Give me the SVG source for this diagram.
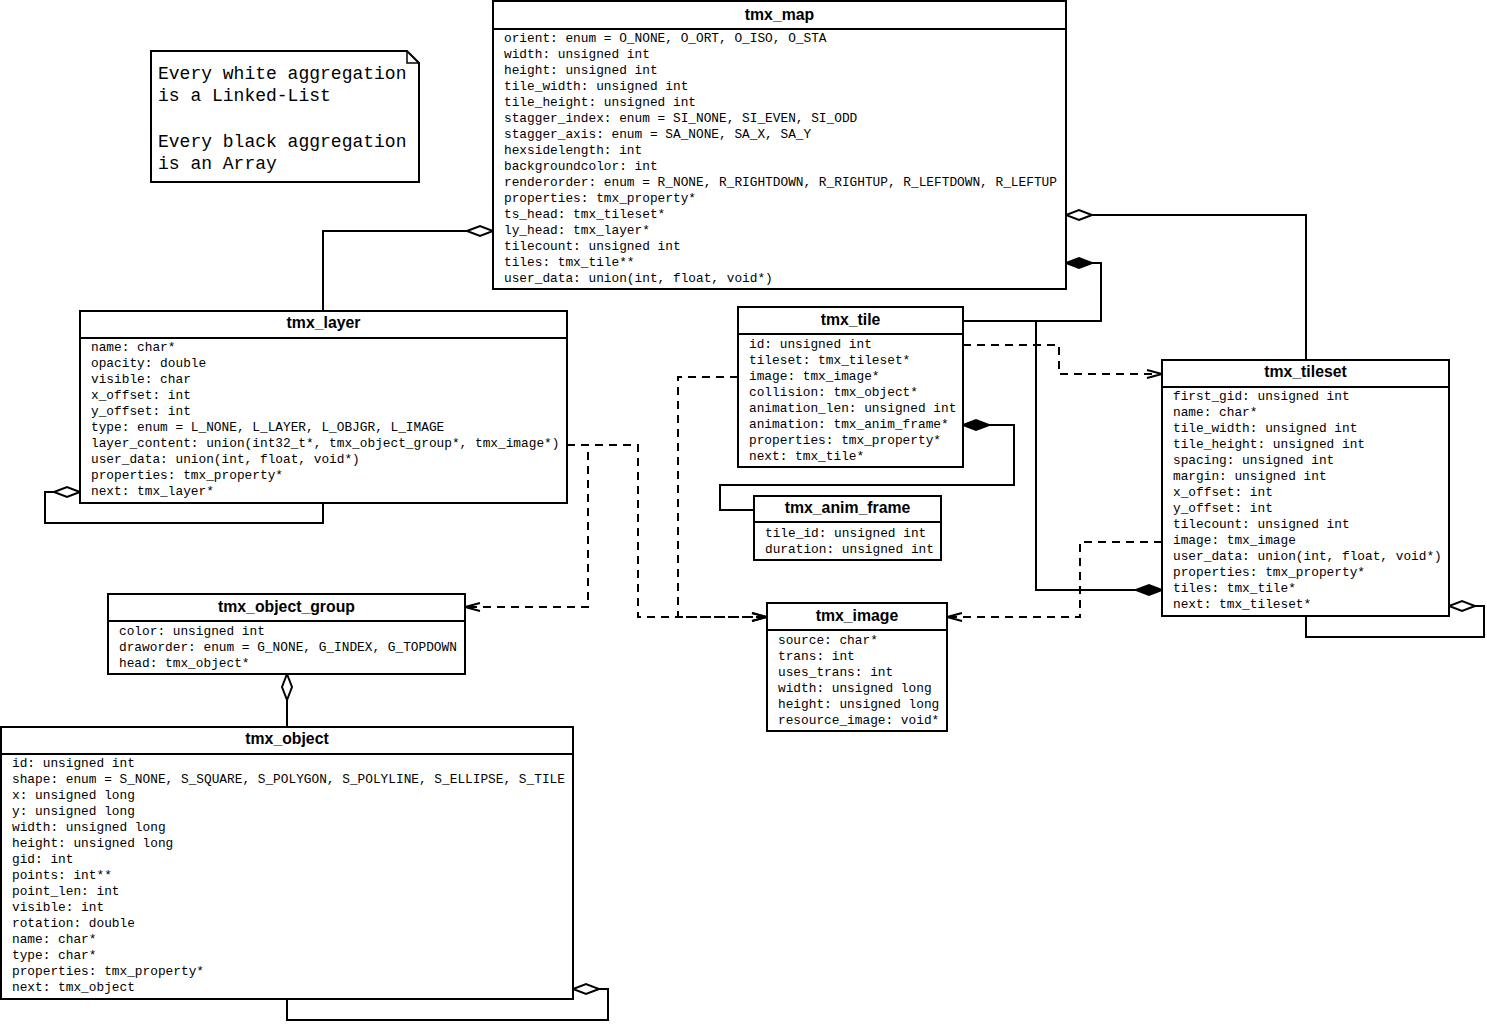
<svg xmlns="http://www.w3.org/2000/svg" width="1487" height="1032" viewBox="0 0 1487 1032">
<style>
.box{fill:#fff;stroke:#000;stroke-width:2}
.div{stroke:#000;stroke-width:2}
.title{font-family:"Liberation Sans",Arial,sans-serif;font-weight:bold;font-size:15.8px;text-anchor:middle;fill:#000}
.attr{font-family:"Liberation Mono","Courier New",monospace;font-size:12.8px;fill:#000}
.note{font-family:"Liberation Mono","Courier New",monospace;font-size:18px;fill:#000}
.conn{fill:none;stroke:#000;stroke-width:2}
.dash{stroke-dasharray:8 6}
</style>
<defs>
<marker id="hollow" markerUnits="userSpaceOnUse" markerWidth="30" markerHeight="14" refX="27" refY="7" orient="auto" overflow="visible">
<path d="M1,7 L14,2 L27,7 L14,12 Z" fill="#fff" stroke="#000" stroke-width="2"/>
</marker>
<marker id="filled" markerUnits="userSpaceOnUse" markerWidth="30" markerHeight="14" refX="27" refY="7" orient="auto" overflow="visible">
<path d="M1,7 L14,2 L27,7 L14,12 Z" fill="#000" stroke="#000" stroke-width="2"/>
</marker>
<marker id="open" markerUnits="userSpaceOnUse" markerWidth="18" markerHeight="12" refX="16" refY="6" orient="auto" overflow="visible">
<path d="M1,2 L16,6 L1,10" fill="none" stroke="#000" stroke-width="2"/>
</marker>
</defs>

<g id="connectors">
<path class="conn" d="M323,311 V231 H493" marker-end="url(#hollow)"/>
<path class="conn" d="M323,503 V523 H45 V492 H80" marker-end="url(#hollow)"/>
<path class="conn" d="M1306,360 V215 H1066" marker-end="url(#hollow)"/>
<path class="conn" d="M963,321 H1101 V263 H1066" marker-end="url(#filled)"/>
<path class="conn" d="M963,321 H1036 V590 H1162" marker-end="url(#filled)"/>
<path class="conn dash" d="M963,345 H1059 V374 H1162" marker-end="url(#open)"/>
<path class="conn" d="M754,510 H720 V485 H1014 V425 H963" marker-end="url(#filled)"/>
<path class="conn dash" d="M738,377 H678 V617 H767" marker-end="url(#open)"/>
<path class="conn dash" d="M567,445 H638 V617 H767" marker-end="url(#open)"/>
<path class="conn dash" d="M567,445 H588 V607 H465" marker-end="url(#open)"/>
<path class="conn dash" d="M1162,542 H1080 V617 H947" marker-end="url(#open)"/>
<path class="conn" d="M1306,616 V637 H1484 V606 H1449" marker-end="url(#hollow)"/>
<path class="conn" d="M287,727 V674" marker-end="url(#hollow)"/>
<path class="conn" d="M287,999 V1020 H608 V989 H573" marker-end="url(#hollow)"/>
</g>

<g id="note">
<path class="box" d="M151,51 H407 L419,63 V182 H151 Z"/>
<path fill="none" stroke="#000" stroke-width="1.5" d="M407,51 V63 H419"/>
<text class="note" x="158" y="79">Every white aggregation</text>
<text class="note" x="158" y="101">is a Linked-List</text>
<text class="note" x="158" y="147">Every black aggregation</text>
<text class="note" x="158" y="169">is an Array</text>
</g>

<g id="tmx_map">
<rect class="box" x="493" y="1" width="573" height="288"/>
<line class="div" x1="493" y1="29" x2="1066" y2="29"/>
<text class="title" x="779.5" y="19.5">tmx_map</text>
<text class="attr" x="504" y="42">orient: enum = O_NONE, O_ORT, O_ISO, O_STA</text>
<text class="attr" x="504" y="58">width: unsigned int</text>
<text class="attr" x="504" y="74">height: unsigned int</text>
<text class="attr" x="504" y="90">tile_width: unsigned int</text>
<text class="attr" x="504" y="106">tile_height: unsigned int</text>
<text class="attr" x="504" y="122">stagger_index: enum = SI_NONE, SI_EVEN, SI_ODD</text>
<text class="attr" x="504" y="138">stagger_axis: enum = SA_NONE, SA_X, SA_Y</text>
<text class="attr" x="504" y="154">hexsidelength: int</text>
<text class="attr" x="504" y="170">backgroundcolor: int</text>
<text class="attr" x="504" y="186">renderorder: enum = R_NONE, R_RIGHTDOWN, R_RIGHTUP, R_LEFTDOWN, R_LEFTUP</text>
<text class="attr" x="504" y="202">properties: tmx_property*</text>
<text class="attr" x="504" y="218">ts_head: tmx_tileset*</text>
<text class="attr" x="504" y="234">ly_head: tmx_layer*</text>
<text class="attr" x="504" y="250">tilecount: unsigned int</text>
<text class="attr" x="504" y="266">tiles: tmx_tile**</text>
<text class="attr" x="504" y="282">user_data: union(int, float, void*)</text>
</g>

<g id="tmx_layer">
<rect class="box" x="80" y="311" width="487" height="192"/>
<line class="div" x1="80" y1="338" x2="567" y2="338"/>
<text class="title" x="323.5" y="327.5">tmx_layer</text>
<text class="attr" x="91" y="351">name: char*</text>
<text class="attr" x="91" y="367">opacity: double</text>
<text class="attr" x="91" y="383">visible: char</text>
<text class="attr" x="91" y="399">x_offset: int</text>
<text class="attr" x="91" y="415">y_offset: int</text>
<text class="attr" x="91" y="431">type: enum = L_NONE, L_LAYER, L_OBJGR, L_IMAGE</text>
<text class="attr" x="91" y="447">layer_content: union(int32_t*, tmx_object_group*, tmx_image*)</text>
<text class="attr" x="91" y="463">user_data: union(int, float, void*)</text>
<text class="attr" x="91" y="479">properties: tmx_property*</text>
<text class="attr" x="91" y="495">next: tmx_layer*</text>
</g>

<g id="tmx_tile">
<rect class="box" x="738" y="307" width="225" height="160"/>
<line class="div" x1="738" y1="334" x2="963" y2="334"/>
<text class="title" x="850.5" y="324.5">tmx_tile</text>
<text class="attr" x="749" y="348">id: unsigned int</text>
<text class="attr" x="749" y="364">tileset: tmx_tileset*</text>
<text class="attr" x="749" y="380">image: tmx_image*</text>
<text class="attr" x="749" y="396">collision: tmx_object*</text>
<text class="attr" x="749" y="412">animation_len: unsigned int</text>
<text class="attr" x="749" y="428">animation: tmx_anim_frame*</text>
<text class="attr" x="749" y="444">properties: tmx_property*</text>
<text class="attr" x="749" y="460">next: tmx_tile*</text>
</g>

<g id="tmx_anim_frame">
<rect class="box" x="754" y="496" width="187" height="64"/>
<line class="div" x1="754" y1="522" x2="941" y2="522"/>
<text class="title" x="847.5" y="512.5">tmx_anim_frame</text>
<text class="attr" x="765" y="537">tile_id: unsigned int</text>
<text class="attr" x="765" y="553">duration: unsigned int</text>
</g>

<g id="tmx_tileset">
<rect class="box" x="1162" y="360" width="287" height="256"/>
<line class="div" x1="1162" y1="387" x2="1449" y2="387"/>
<text class="title" x="1305.5" y="376.5">tmx_tileset</text>
<text class="attr" x="1173" y="400">first_gid: unsigned int</text>
<text class="attr" x="1173" y="416">name: char*</text>
<text class="attr" x="1173" y="432">tile_width: unsigned int</text>
<text class="attr" x="1173" y="448">tile_height: unsigned int</text>
<text class="attr" x="1173" y="464">spacing: unsigned int</text>
<text class="attr" x="1173" y="480">margin: unsigned int</text>
<text class="attr" x="1173" y="496">x_offset: int</text>
<text class="attr" x="1173" y="512">y_offset: int</text>
<text class="attr" x="1173" y="528">tilecount: unsigned int</text>
<text class="attr" x="1173" y="544">image: tmx_image</text>
<text class="attr" x="1173" y="560">user_data: union(int, float, void*)</text>
<text class="attr" x="1173" y="576">properties: tmx_property*</text>
<text class="attr" x="1173" y="592">tiles: tmx_tile*</text>
<text class="attr" x="1173" y="608">next: tmx_tileset*</text>
</g>

<g id="tmx_object_group">
<rect class="box" x="108" y="594" width="357" height="80"/>
<line class="div" x1="108" y1="621" x2="465" y2="621"/>
<text class="title" x="286.5" y="611.5">tmx_object_group</text>
<text class="attr" x="119" y="635">color: unsigned int</text>
<text class="attr" x="119" y="651">draworder: enum = G_NONE, G_INDEX, G_TOPDOWN</text>
<text class="attr" x="119" y="667">head: tmx_object*</text>
</g>

<g id="tmx_image">
<rect class="box" x="767" y="603" width="180" height="128"/>
<line class="div" x1="767" y1="630" x2="947" y2="630"/>
<text class="title" x="857" y="620.5">tmx_image</text>
<text class="attr" x="778" y="644">source: char*</text>
<text class="attr" x="778" y="660">trans: int</text>
<text class="attr" x="778" y="676">uses_trans: int</text>
<text class="attr" x="778" y="692">width: unsigned long</text>
<text class="attr" x="778" y="708">height: unsigned long</text>
<text class="attr" x="778" y="724">resource_image: void*</text>
</g>

<g id="tmx_object">
<rect class="box" x="1" y="727" width="572" height="272"/>
<line class="div" x1="1" y1="754" x2="573" y2="754"/>
<text class="title" x="287" y="743.5">tmx_object</text>
<text class="attr" x="12" y="767">id: unsigned int</text>
<text class="attr" x="12" y="783">shape: enum = S_NONE, S_SQUARE, S_POLYGON, S_POLYLINE, S_ELLIPSE, S_TILE</text>
<text class="attr" x="12" y="799">x: unsigned long</text>
<text class="attr" x="12" y="815">y: unsigned long</text>
<text class="attr" x="12" y="831">width: unsigned long</text>
<text class="attr" x="12" y="847">height: unsigned long</text>
<text class="attr" x="12" y="863">gid: int</text>
<text class="attr" x="12" y="879">points: int**</text>
<text class="attr" x="12" y="895">point_len: int</text>
<text class="attr" x="12" y="911">visible: int</text>
<text class="attr" x="12" y="927">rotation: double</text>
<text class="attr" x="12" y="943">name: char*</text>
<text class="attr" x="12" y="959">type: char*</text>
<text class="attr" x="12" y="975">properties: tmx_property*</text>
<text class="attr" x="12" y="991">next: tmx_object</text>
</g>
</svg>
